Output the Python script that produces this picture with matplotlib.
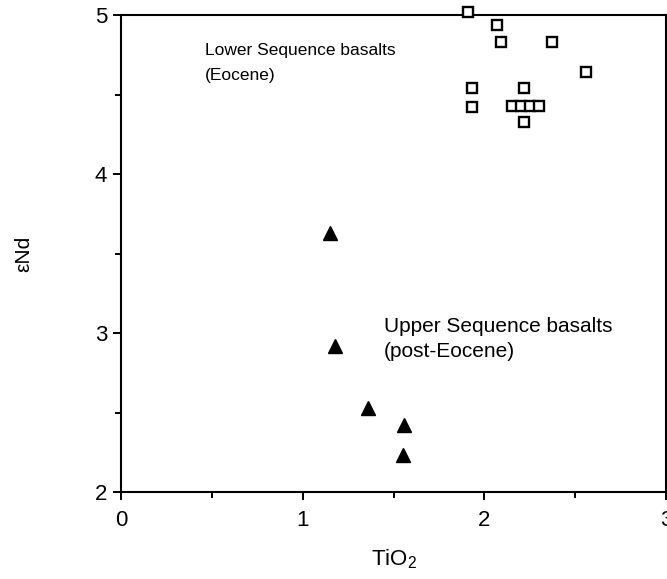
import matplotlib
matplotlib.use("Agg")
import matplotlib.pyplot as plt
from matplotlib.ticker import MultipleLocator

plt.rcParams['font.family'] = ['Liberation Sans', 'DejaVu Sans']
plt.rcParams['mathtext.fontset'] = 'custom'
plt.rcParams['mathtext.rm'] = 'Liberation Sans'

# Lower Sequence basalts (Eocene) - open squares
lower_tio2 = [1.91, 2.07, 2.09, 2.37, 2.56, 1.93, 1.93, 2.22, 2.15, 2.20, 2.25, 2.30, 2.22]
lower_end  = [5.02, 4.94, 4.83, 4.83, 4.64, 4.54, 4.42, 4.54, 4.43, 4.43, 4.43, 4.43, 4.33]

# Upper Sequence basalts (post-Eocene) - filled triangles
upper_tio2 = [1.15, 1.18, 1.36, 1.56, 1.55]
upper_end  = [3.63, 2.92, 2.53, 2.42, 2.23]

lower_lines = ["Lower Sequence basalts", "(Eocene)"]
upper_lines = ["Upper Sequence basalts", "(post-Eocene)"]

W, H = 667, 579
fig = plt.figure(figsize=(W/100, H/100), dpi=100)
ax = fig.add_axes([121/W, 1-492/H, (666-121)/W, (492-15)/H])

ax.plot(lower_tio2, lower_end, linestyle='none', marker='s', markersize=7.2,
        markerfacecolor='white', markeredgecolor='black', markeredgewidth=1.7,
        clip_on=False, zorder=5)
ax.plot(upper_tio2, upper_end, linestyle='none', marker='^', markersize=10,
        color='black', clip_on=False, zorder=5)

ax.set_xlim(0, 3)
ax.set_ylim(2, 5)
ax.xaxis.set_major_locator(MultipleLocator(1))
ax.xaxis.set_minor_locator(MultipleLocator(0.5))
ax.yaxis.set_major_locator(MultipleLocator(1))
ax.yaxis.set_minor_locator(MultipleLocator(0.5))
ax.tick_params(which='both', direction='out', width=1.4, labelsize=16)
ax.tick_params(which='major', length=6)
ax.tick_params(which='minor', length=4)
ax.tick_params(axis='x', which='major', pad=7)
ax.tick_params(axis='y', which='major', pad=4)
for s in ax.spines.values():
    s.set_linewidth(1.5)

ax.text(0.462, 4.748, lower_lines[0], va='baseline', ha='left', fontsize=12.5)
ax.text(0.462, 4.591, lower_lines[1], va='baseline', ha='left', fontsize=12.5)
ax.text(1.447, 3.006, upper_lines[0], va='baseline', ha='left', fontsize=15)
ax.text(1.447, 2.849, upper_lines[1], va='baseline', ha='left', fontsize=15)

ax.set_xlabel("TiO$_\\mathrm{2}$", fontsize=16, labelpad=12)
ax.set_ylabel("εNd", fontsize=15, labelpad=44)

fig.savefig("out.png", dpi=100)
